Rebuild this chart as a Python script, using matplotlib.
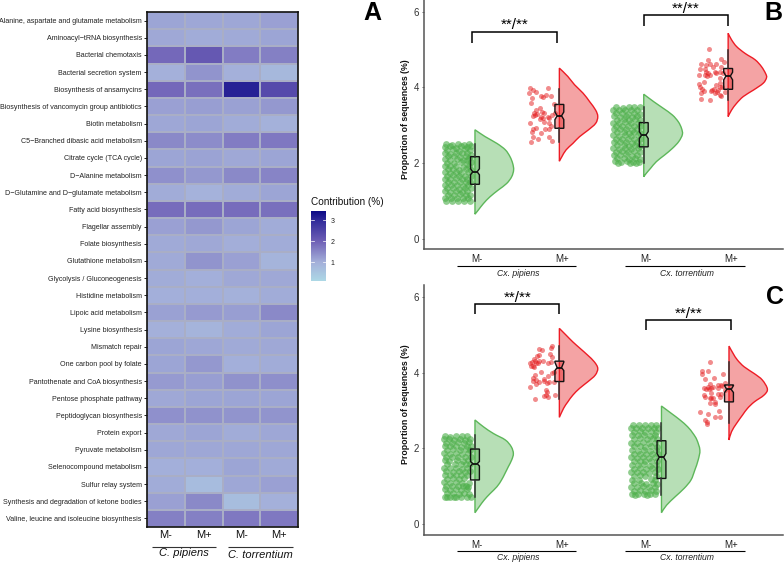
import matplotlib
matplotlib.use("Agg")
import matplotlib.pyplot as plt
import numpy as np
from matplotlib.colors import LinearSegmentedColormap, Normalize
from matplotlib.lines import Line2D
from matplotlib.path import Path
from matplotlib.patches import PathPatch

plt.rcParams['font.family'] = ['Liberation Sans', 'DejaVu Sans']

W, H = 784, 563

pathways = ["Alanine, aspartate and glutamate metabolism", "Aminoacyl\u2212tRNA biosynthesis", "Bacterial chemotaxis",
            "Bacterial secretion system", "Biosynthesis of ansamycins", "Biosynthesis of vancomycin group antibiotics",
            "Biotin metabolism", "C5\u2212Branched dibasic acid metabolism", "Citrate cycle (TCA cycle)",
            "D\u2212Alanine metabolism", "D\u2212Glutamine and D\u2212glutamate metabolism", "Fatty acid biosynthesis",
            "Flagellar assembly", "Folate biosynthesis", "Glutathione metabolism", "Glycolysis / Gluconeogenesis",
            "Histidine metabolism", "Lipoic acid metabolism", "Lysine biosynthesis", "Mismatch repair",
            "One carbon pool by folate", "Pantothenate and CoA biosynthesis", "Pentose phosphate pathway",
            "Peptidoglycan biosynthesis", "Protein export", "Pyruvate metabolism", "Selenocompound metabolism",
            "Sulfur relay system", "Synthesis and degradation of ketone bodies", "Valine, leucine and isoleucine biosynthesis"]
heat_values = [[1.15, 1.12, 1.12, 1.20], [1.10, 1.05, 1.08, 1.15], [1.90, 2.15, 1.65, 1.60], [1.00, 1.35, 1.00, 0.82],
               [1.90, 1.80, 3.10, 2.40], [1.20, 1.22, 1.18, 1.30], [1.12, 1.15, 1.05, 0.98], [1.50, 1.45, 1.65, 1.70],
               [1.15, 1.17, 1.10, 1.15], [1.40, 1.30, 1.50, 1.55], [1.05, 0.95, 1.05, 1.15], [1.85, 1.85, 1.85, 1.80],
               [1.20, 1.30, 1.15, 1.05], [1.08, 1.10, 1.03, 1.05], [1.08, 1.35, 1.20, 0.92], [1.05, 1.02, 1.10, 1.10],
               [1.02, 1.02, 0.98, 1.05], [1.18, 1.28, 1.22, 1.50], [1.00, 0.93, 1.05, 1.15], [1.15, 1.12, 1.08, 1.10],
               [1.15, 1.30, 1.02, 1.05], [1.28, 1.22, 1.38, 1.42], [1.10, 1.15, 1.15, 1.15], [1.40, 1.38, 1.35, 1.35],
               [1.10, 1.15, 1.05, 1.12], [1.12, 1.12, 1.12, 1.12], [1.02, 1.02, 1.15, 1.08], [1.05, 0.75, 1.12, 1.20],
               [1.20, 1.50, 0.72, 1.00], [1.60, 1.60, 1.70, 1.70]]
heat_cols = ["M-", "M+", "M-", "M+"]
cbar_ticks = [1, 2, 3]
cbar_range = (0.116, 3.43)
cmap_stops = [(0.116, '#add8e6'), (1.0, '#a4b0da'), (2.0, '#6f60b6'), (3.0, '#302a9a'), (3.43, '#0c0a87')]

groups = ["M-", "M+", "M-", "M+"]
species = ["Cx. pipiens", "Cx. torrentium"]
y_ticks = [0, 2, 4, 6]
star_label = "**/**"

# violin outlines: (value, density width)
b_density = [
    [(2.88, .0), (2.70, .12), (2.52, .26), (2.35, .36), (2.17, .415), (1.99, .447), (1.82, .458), (1.64, .435),
     (1.46, .375), (1.29, .277), (1.11, .178), (.93, .10), (.76, .04), (.65, 0)],
    [(4.51, 0), (4.29, .10), (4.07, .18), (3.85, .28), (3.62, .36), (3.40, .43), (3.23, .455), (3.05, .43),
     (2.87, .34), (2.70, .24), (2.52, .16), (2.35, .08), (2.17, .03), (2.05, 0)],
    [(3.82, 0), (3.62, .12), (3.45, .23), (3.27, .34), (3.09, .41), (2.92, .447), (2.76, .458), (2.57, .415),
     (2.39, .34), (2.21, .245), (2.04, .15), (1.86, .08), (1.73, .03), (1.64, 0)],
    [(5.43, 0), (5.26, .04), (5.08, .10), (4.90, .20), (4.73, .32), (4.55, .395), (4.37, .443), (4.26, .455),
     (4.11, .415), (3.93, .30), (3.76, .18), (3.58, .10), (3.40, .04), (3.23, 0)]]
c_density = [
    [(2.75, 0), (2.57, .10), (2.39, .22), (2.22, .36), (2.04, .43), (1.86, .455), (1.69, .435), (1.51, .395),
     (1.33, .355), (1.16, .315), (.98, .26), (.80, .18), (.63, .11), (.45, .05), (.29, 0)],
    [(5.18, 0), (5.00, .08), (4.82, .16), (4.65, .245), (4.47, .335), (4.29, .415), (4.12, .455), (3.94, .425),
     (3.76, .335), (3.59, .24), (3.41, .16), (3.23, .10), (3.06, .05), (2.82, 0)],
    [(3.12, 0), (2.92, .12), (2.75, .22), (2.57, .31), (2.39, .375), (2.22, .42), (1.95, .455), (1.69, .435),
     (1.42, .395), (1.16, .35), (.94, .27), (.72, .165), (.49, .06), (.29, 0)],
    [(4.71, 0), (4.51, .05), (4.34, .10), (4.16, .18), (3.98, .30), (3.81, .395), (3.57, .455), (3.41, .415),
     (3.23, .30), (3.06, .22), (2.88, .16), (2.66, .09), (2.44, .03), (2.22, 0)]]

# box summaries: whisker low, q1, ci low, median, ci high, q3, whisker high
b_box = [(1.00, 1.44, 1.69, 1.77, 1.85, 2.17, 2.50), (2.56, 2.92, 3.15, 3.25, 3.35, 3.55, 3.97),
         (1.99, 2.43, 2.65, 2.74, 2.83, 3.07, 3.49), (3.67, 3.95, 4.20, 4.30, 4.40, 4.50, 5.00)]
c_box = [(0.70, 1.16, 1.53, 1.59, 1.65, 1.98, 2.35), (3.30, 3.77, 4.06, 4.14, 4.28, 4.31, 4.71),
         (0.76, 1.20, 1.66, 1.76, 1.86, 2.20, 2.66), (2.66, 3.23, 3.48, 3.56, 3.66, 3.68, 4.29)]

# jittered points: (offset from violin, value)
b_pts_0 = [(-.34,2.5),(-.27,2.49),(-.2,2.5),(-.13,2.48),(-.07,2.5),(-.36,2.43),(-.3,2.44),(-.23,2.41),(-.16,2.44),(-.1,2.42),(-.05,2.45),
 (-.33,2.35),(-.26,2.36),(-.19,2.33),(-.12,2.36),(-.06,2.34),(-.35,2.27),(-.29,2.25),(-.22,2.28),(-.15,2.26),(-.09,2.27),(-.05,2.22),
 (-.32,2.18),(-.25,2.19),(-.18,2.17),(-.11,2.2),(-.07,2.14),(-.36,2.1),(-.29,2.09),(-.21,2.1),(-.14,2.07),(-.09,2.08),
 (-.33,2.01),(-.25,2.0),(-.17,2.02),(-.1,1.98),(-.05,2.02),(-.36,1.93),(-.29,1.92),(-.22,1.93),(-.14,1.9),(-.07,1.92),
 (-.32,1.84),(-.26,1.85),(-.19,1.83),(-.11,1.84),(-.05,1.83),(-.36,1.76),(-.29,1.75),(-.23,1.76),(-.16,1.74),(-.08,1.76),
 (-.33,1.67),(-.26,1.68),(-.19,1.66),(-.12,1.67),(-.05,1.66),(-.35,1.59),(-.29,1.58),(-.22,1.6),(-.15,1.57),(-.09,1.59),
 (-.32,1.5),(-.25,1.49),(-.18,1.51),(-.11,1.49),(-.06,1.51),(-.36,1.42),(-.28,1.41),(-.21,1.42),(-.14,1.4),(-.08,1.43),
 (-.33,1.33),(-.26,1.34),(-.19,1.32),(-.12,1.34),(-.05,1.33),(-.35,1.25),(-.29,1.24),(-.22,1.26),(-.15,1.24),(-.09,1.25),
 (-.32,1.17),(-.25,1.16),(-.18,1.18),(-.11,1.16),(-.06,1.17),(-.36,1.09),(-.28,1.08),(-.21,1.09),(-.14,1.07),(-.08,1.09),
 (-.34,1.01),(-.27,1.0),(-.2,1.01),(-.13,1.0),(-.06,1.01)]
b_pts_1 = [(-.348,3.98),(-.308,3.93),(-.281,3.87),(-.356,3.85),(-.134,3.99),(-.324,3.71),(-.221,3.77),(-.162,3.80),(-.19,3.74),(-.099,3.77),
 (-.336,3.58),(-.063,3.56),(-.229,3.45),(-.209,3.36),(-.277,3.39),(-.296,3.33),(-.308,3.25),(-.261,3.30),(-.182,3.32),(-.221,3.21),
 (-.19,3.18),(-.13,3.21),(-.119,3.18),(-.083,3.27),(-.051,3.32),(-.348,3.07),(-.182,3.08),(-.119,3.05),(-.103,2.98),(-.277,2.92),
 (-.308,2.89),(-.324,2.83),(-.17,2.90),(-.119,2.90),(-.221,2.80),(-.316,2.70),(-.257,2.65),(-.119,2.70),(-.083,2.58),(-.332,2.57),
 (-.229,3.16),(-.289,3.27)]
b_pts_2 = [(-.33,3.47),(-.25,3.46),(-.18,3.48),(-.11,3.47),(-.05,3.49),(-.36,3.4),(-.29,3.41),(-.22,3.39),(-.15,3.41),(-.08,3.39),
 (-.33,3.32),(-.26,3.33),(-.19,3.3),(-.12,3.32),(-.05,3.31),(-.35,3.24),(-.28,3.23),(-.21,3.25),(-.14,3.22),(-.08,3.24),
 (-.32,3.15),(-.24,3.16),(-.17,3.14),(-.1,3.16),(-.04,3.14),(-.36,3.07),(-.29,3.06),(-.22,3.08),(-.15,3.05),(-.07,3.07),
 (-.33,2.98),(-.26,2.99),(-.19,2.97),(-.12,2.99),(-.05,2.98),(-.35,2.9),(-.28,2.89),(-.21,2.91),(-.14,2.88),(-.08,2.9),
 (-.32,2.81),(-.24,2.82),(-.18,2.8),(-.11,2.82),(-.04,2.8),(-.36,2.73),(-.29,2.72),(-.22,2.74),(-.15,2.71),(-.07,2.73),
 (-.33,2.64),(-.26,2.65),(-.19,2.63),(-.12,2.65),(-.05,2.64),(-.35,2.56),(-.28,2.55),(-.21,2.57),(-.14,2.54),(-.08,2.56),
 (-.32,2.47),(-.24,2.48),(-.17,2.46),(-.1,2.48),(-.04,2.46),(-.36,2.39),(-.29,2.38),(-.22,2.4),(-.15,2.37),(-.07,2.39),
 (-.33,2.3),(-.26,2.31),(-.19,2.29),(-.12,2.31),(-.05,2.3),(-.35,2.22),(-.28,2.21),(-.21,2.23),(-.14,2.2),(-.08,2.22),
 (-.32,2.13),(-.24,2.14),(-.17,2.12),(-.1,2.14),(-.04,2.12),(-.34,2.05),(-.27,2.03),(-.2,2.05),(-.13,2.02),(-.06,2.04),
 (-.3,1.99),(-.16,2.0),(-.09,1.99)]
b_pts_3 = [(-.229,5.02),(-.237,4.73),(-.324,4.62),(-.217,4.62),(-.265,4.59),(-.138,4.61),(-.087,4.76),(-.055,4.66),(-.178,4.53),(-.079,4.53),
 (-.336,4.48),(-.269,4.48),(-.099,4.42),(-.257,4.42),(-.237,4.37),(-.348,4.33),(-.277,4.33),(-.217,4.33),(-.245,4.30),(-.059,4.37),
 (-.158,4.42),(-.138,4.39),(-.099,4.24),(-.099,4.11),(-.348,4.08),(-.289,4.15),(-.328,4.0),(-.308,3.95),(-.285,3.91),(-.206,3.91),
 (-.166,3.95),(-.146,4.06),(-.099,4.02),(-.071,4.02),(-.158,3.84),(-.099,3.80),(-.130,3.87),(-.316,3.86),(-.324,3.70),(-.217,3.66),
 (-.19,3.93),(-.119,3.93),(-.079,3.78),(-.04,3.89)]
c_pts_0 = [(-.35,2.33),(-.29,2.31),(-.22,2.33),(-.15,2.32),(-.09,2.33),(-.37,2.24),(-.31,2.25),(-.25,2.22),(-.18,2.25),(-.12,2.23),(-.06,2.25),
 (-.34,2.15),(-.27,2.14),(-.2,2.16),(-.13,2.14),(-.07,2.16),(-.36,2.06),(-.3,2.05),(-.23,2.07),(-.16,2.04),(-.1,2.06),(-.05,2.05),
 (-.33,1.96),(-.26,1.97),(-.18,1.95),(-.11,1.97),(-.06,1.95),(-.37,1.87),(-.3,1.86),(-.22,1.88),(-.15,1.85),(-.08,1.87),
 (-.34,1.77),(-.27,1.76),(-.2,1.78),(-.12,1.76),(-.05,1.78),(-.36,1.68),(-.31,1.67),(-.21,1.69),(-.14,1.66),(-.08,1.68),
 (-.33,1.58),(-.24,1.59),(-.17,1.57),(-.11,1.59),(-.06,1.57),(-.37,1.48),(-.29,1.47),(-.22,1.49),(-.15,1.46),(-.09,1.48),
 (-.34,1.39),(-.26,1.38),(-.19,1.4),(-.12,1.38),(-.06,1.39),(-.36,1.29),(-.3,1.3),(-.23,1.28),(-.16,1.3),(-.1,1.28),
 (-.33,1.19),(-.26,1.2),(-.19,1.18),(-.13,1.2),(-.07,1.08),(-.37,1.1),(-.29,1.09),(-.22,1.11),(-.15,1.09),(-.11,1.0),
 (-.34,1.0),(-.27,1.01),(-.2,.99),(-.14,1.01),(-.08,.98),(-.36,.91),(-.3,.9),(-.23,.92),(-.16,.9),(-.1,.91),
 (-.33,.81),(-.26,.82),(-.19,.8),(-.13,.82),(-.07,.8),(-.36,.72),(-.29,.71),(-.22,.72),(-.16,.7),(-.1,.72),(-.05,.71),(-.33,.7),(-.25,.7)]
c_pts_1 = [(-.083,4.72),(-.103,4.67),(-.241,4.62),(-.202,4.61),(-.111,4.50),(-.241,4.47),(-.269,4.45),(-.091,4.43),(-.300,4.37),(-.328,4.30),
 (-.289,4.31),(-.237,4.31),(-.198,4.31),(-.348,4.25),(-.316,4.19),(-.277,4.25),(-.249,4.25),(-.134,4.27),(-.095,4.29),(-.336,4.17),
 (-.296,4.15),(-.221,4.03),(-.130,3.92),(-.091,3.99),(-.059,4.01),(-.289,3.94),(-.308,3.86),(-.316,3.79),(-.281,3.81),(-.237,3.77),
 (-.182,3.84),(-.150,3.72),(-.123,3.77),(-.063,3.77),(-.348,3.63),(-.281,3.70),(-.182,3.79),(-.158,3.55),(-.142,3.48),(-.182,3.39),
 (-.134,3.37),(-.055,3.40),(-.289,3.31),(-.158,3.41)]
c_pts_2 = [(-.34,2.63),(-.27,2.62),(-.2,2.63),(-.13,2.61),(-.06,2.63),(-.36,2.54),(-.3,2.55),(-.23,2.53),(-.16,2.55),(-.09,2.53),(-.04,2.55),
 (-.33,2.44),(-.26,2.45),(-.19,2.43),(-.12,2.45),(-.06,2.43),(-.35,2.35),(-.28,2.34),(-.21,2.36),(-.14,2.33),(-.08,2.35),
 (-.32,2.25),(-.25,2.26),(-.17,2.24),(-.1,2.26),(-.05,2.24),(-.36,2.15),(-.29,2.14),(-.22,2.16),(-.15,2.13),(-.08,2.15),
 (-.33,2.05),(-.26,2.06),(-.19,2.04),(-.12,2.06),(-.05,2.04),(-.35,1.95),(-.28,1.94),(-.21,1.96),(-.14,1.93),(-.07,1.95),
 (-.32,1.85),(-.25,1.86),(-.18,1.84),(-.11,1.86),(-.04,1.84),(-.36,1.76),(-.29,1.75),(-.22,1.77),(-.15,1.74),(-.08,1.76),
 (-.33,1.66),(-.26,1.67),(-.19,1.65),(-.12,1.67),(-.05,1.65),(-.35,1.56),(-.28,1.55),(-.21,1.57),(-.14,1.54),(-.07,1.56),
 (-.32,1.46),(-.25,1.47),(-.18,1.45),(-.11,1.47),(-.04,1.45),(-.36,1.37),(-.29,1.36),(-.22,1.38),(-.15,1.35),(-.08,1.37),
 (-.33,1.27),(-.26,1.28),(-.19,1.26),(-.06,1.27),(-.35,1.17),(-.27,1.16),(-.13,1.18),(-.08,1.16),(-.32,1.07),(-.24,1.08),
 (-.18,1.06),(-.1,1.08),(-.05,1.06),(-.36,.98),(-.29,.97),(-.22,.99),(-.15,.96),(-.08,.98),(-.33,.88),(-.26,.89),
 (-.19,.87),(-.12,.89),(-.06,.87),(-.35,.79),(-.28,.78),(-.21,.8),(-.14,.78),(-.08,.79),(-.31,.76),(-.17,.76)]
c_pts_3 = [(-.229,4.29),(-.316,4.05),(-.249,4.05),(-.316,3.96),(-.071,3.97),(-.289,3.85),(-.178,3.87),(-.229,3.70),(-.249,3.63),(-.300,3.59),
 (-.209,3.61),(-.269,3.57),(-.130,3.67),(-.091,3.69),(-.051,3.74),(-.237,3.56),(-.190,3.63),(-.130,3.59),(-.300,3.41),(-.289,3.37),
 (-.209,3.47),(-.130,3.45),(-.091,3.45),(-.229,3.32),(-.190,3.32),(-.170,3.23),(-.221,3.19),(-.170,3.17),(-.209,3.32),(-.111,3.35),
 (-.119,2.99),(-.348,2.97),(-.249,2.92),(-.170,2.84),(-.111,2.84),(-.289,2.76),(-.257,2.70),(-.265,2.64),(-.051,3.54),(-.079,3.65)]

GREEN, RED = '#4DAF4A', '#E41A1C'
GREEN_EDGE, RED_EDGE = '#5DB75A', '#EE1C25'


def make_axes(l, t, r, b):
    return fig.add_axes([l / W, 1 - b / H, (r - l) / W, (b - t) / H])


def fline(x0, y0, x1, y1, lw=0.8, color='black'):
    fig.add_artist(Line2D([x0 / W, x1 / W], [1 - y0 / H, 1 - y1 / H], transform=fig.transFigure,
                          color=color, lw=lw, solid_capstyle='butt'))


def ftext(x, y, s, **kw):
    kw.setdefault('ha', 'center')
    kw.setdefault('va', 'center')
    fig.text(x / W, 1 - y / H, s, **kw)


def violin_path(x0, dens):
    pts = [(x0 + w, v) for v, w in dens]
    verts = [pts[0]]
    codes = [Path.MOVETO]
    n = len(pts)
    for i in range(n - 1):
        p0 = np.array(pts[max(i - 1, 0)])
        p1 = np.array(pts[i])
        p2 = np.array(pts[i + 1])
        p3 = np.array(pts[min(i + 2, n - 1)])
        c1 = p1 + (p2 - p0) / 6
        c2 = p2 - (p3 - p1) / 6
        c1[0] = max(c1[0], x0)
        c2[0] = max(c2[0], x0)
        verts += [tuple(c1), tuple(c2), tuple(p2)]
        codes += [Path.CURVE4] * 3
    verts.append(pts[0])
    codes.append(Path.CLOSEPOLY)
    return Path(verts, codes)


def raincloud(ax, bases, dens, boxes, points):
    for i, base in enumerate(bases):
        green = i % 2 == 0
        col = GREEN if green else RED
        edge = GREEN_EDGE if green else RED_EDGE
        ax.add_patch(PathPatch(violin_path(base, dens[i]), facecolor=matplotlib.colors.to_rgba(col, 0.4),
                               edgecolor=edge, lw=1.0, zorder=2))
        arr = np.array(points[i])
        ax.scatter(base + arr[:, 0], arr[:, 1], s=24 if green else 13, color=col, alpha=0.62 if green else 0.5,
                   linewidths=0, zorder=3)
        lo, q1, cl, med, ch, q3, hi = boxes[i]
        stat = dict(med=med, q1=q1, q3=q3, cilo=cl, cihi=ch, whislo=lo, whishi=hi, fliers=[])
        ax.bxp([stat], positions=[base], widths=[0.105], shownotches=True, showcaps=False, showfliers=False,
               patch_artist=True, manage_ticks=False, zorder=4,
               boxprops=dict(facecolor=matplotlib.colors.to_rgba(col, 0.4), edgecolor='#111111', lw=1.0),
               medianprops=dict(color='#111111', lw=1.3),
               whiskerprops=dict(color='#333333', lw=1.1))


def style_rain(ax, ylim):
    ax.set_xlim(-0.604, 3.65)
    ax.set_ylim(*ylim)
    for s in ('top', 'right'):
        ax.spines[s].set_visible(False)
    for s in ('left', 'bottom'):
        ax.spines[s].set_color('#555555')
        ax.spines[s].set_linewidth(1.1)
    ax.set_yticks(y_ticks)
    ax.set_xticks([0.02, 1.03, 2.02, 3.03])
    ax.set_xticklabels(groups)
    ax.tick_params(axis='y', length=1.8, width=0.6, color='#555555', labelsize=7, labelcolor='#333333', pad=1.5)
    ax.tick_params(axis='x', length=0, labelsize=7, labelcolor='#222222', pad=3.5)
    ax.patch.set_alpha(0)


def bracket(ax, x0, x1, ytop, yfoot, ytext):
    ax.plot([x0, x0, x1, x1], [yfoot, ytop, ytop, yfoot], color='black', lw=1.1, solid_joinstyle='miter',
            solid_capstyle='butt', zorder=5, clip_on=False)
    ax.text((x0 + x1) / 2, ytext, star_label, ha='center', va='center', fontsize=11, color='black', clip_on=False)


fig = plt.figure(figsize=(W / 100, H / 100), dpi=100)

# Panel A
ax = make_axes(147, 12, 298, 527)
stops = [((v - cbar_range[0]) / (cbar_range[1] - cbar_range[0]), c) for v, c in cmap_stops]
cmap = LinearSegmentedColormap.from_list('contrib', stops)
norm = Normalize(*cbar_range)
ax.pcolormesh(np.array(heat_values), cmap=cmap, norm=norm, edgecolors='#a9aec6', linewidth=0.25)
ax.set_ylim(len(pathways), 0)
ax.set_yticks(np.arange(len(pathways)) + 0.5)
ax.set_yticklabels(pathways, fontsize=5.1, color='#222222')
ax.tick_params(axis='y', length=2.5, width=0.7, pad=1.2, color='#222222')
ax.set_xticks(np.arange(4) + 0.5)
ax.set_xticklabels(heat_cols, fontsize=8, color='#111111')
ax.tick_params(axis='x', length=0, pad=2.5)
for s in ax.spines.values():
    s.set_linewidth(1.2)
    s.set_color('#111111')
fline(152, 546.7, 215.7, 546.7, lw=0.8, color='#333333')
fline(228, 546.7, 292.7, 546.7, lw=0.8, color='#333333')
ftext(183.7, 553.5, 'C. pipiens', fontsize=8, style='italic', color='#111111')
ftext(260, 554.5, 'C. torrentium', fontsize=8, style='italic', color='#111111')
ftext(372, 13.5, 'A', fontsize=18, fontweight='bold')

cax = make_axes(311, 211, 326, 281)
grad = np.linspace(cbar_range[0], cbar_range[1], 256).reshape(-1, 1)
cax.imshow(grad, aspect='auto', origin='lower', cmap=cmap, norm=norm,
           extent=[0, 1, cbar_range[0], cbar_range[1]])
cax.set_xticks([])
cax.yaxis.tick_right()
cax.set_yticks(cbar_ticks)
cax.tick_params(axis='y', length=0, labelsize=5, pad=3.5, labelcolor='#222222')
for s in cax.spines.values():
    s.set_visible(False)
for t in cbar_ticks:
    cax.plot([0, 0.2], [t, t], color='white', lw=0.5)
    cax.plot([0.8, 1], [t, t], color='white', lw=0.5)
cax.set_xlim(0, 1)
ftext(311, 202, 'Contribution (%)', fontsize=7.2, ha='left', color='#111111')

# Panel B
axb = make_axes(424, 0, 783, 249)
raincloud(axb, [0, 1, 2, 3], b_density, b_box, [b_pts_0, b_pts_1, b_pts_2, b_pts_3])
style_rain(axb, (-0.27, 6.31))
bracket(axb, -0.036, 0.97, 5.47, 5.18, 5.65)
bracket(axb, 2.0, 3.0, 5.91, 5.63, 6.07)
ftext(405, 119, 'Proportion of sequences (%)', fontsize=6.3, fontweight='bold', rotation=90, color='#111111')
fline(456.7, 266, 576, 266)
fline(625, 266, 745, 266)
ftext(518, 273, species[0], fontsize=6.2, style='italic', color='#222222')
ftext(687, 273, species[1], fontsize=6.2, style='italic', color='#222222')
ftext(773, 12.5, 'B', fontsize=18, fontweight='bold')

# Panel C
axc = make_axes(424, 285, 783, 535)
raincloud(axc, [0, 1, 2.21, 3.01], c_density, c_box, [c_pts_0, c_pts_1, c_pts_2, c_pts_3])
style_rain(axc, (-0.30, 6.33))
bracket(axc, 0.0, 1.0, 5.82, 5.55, 5.98)
bracket(axc, 2.03, 3.03, 5.41, 5.13, 5.57)
ftext(405, 404, 'Proportion of sequences (%)', fontsize=6.3, fontweight='bold', rotation=90, color='#111111')
fline(456.7, 551, 576, 551)
fline(625, 551, 745, 551)
ftext(518, 558, species[0], fontsize=6.2, style='italic', color='#222222')
ftext(687, 558, species[1], fontsize=6.2, style='italic', color='#222222')
ftext(775, 297, 'C', fontsize=18, fontweight='bold')

fig.savefig('out.png', dpi=100)
